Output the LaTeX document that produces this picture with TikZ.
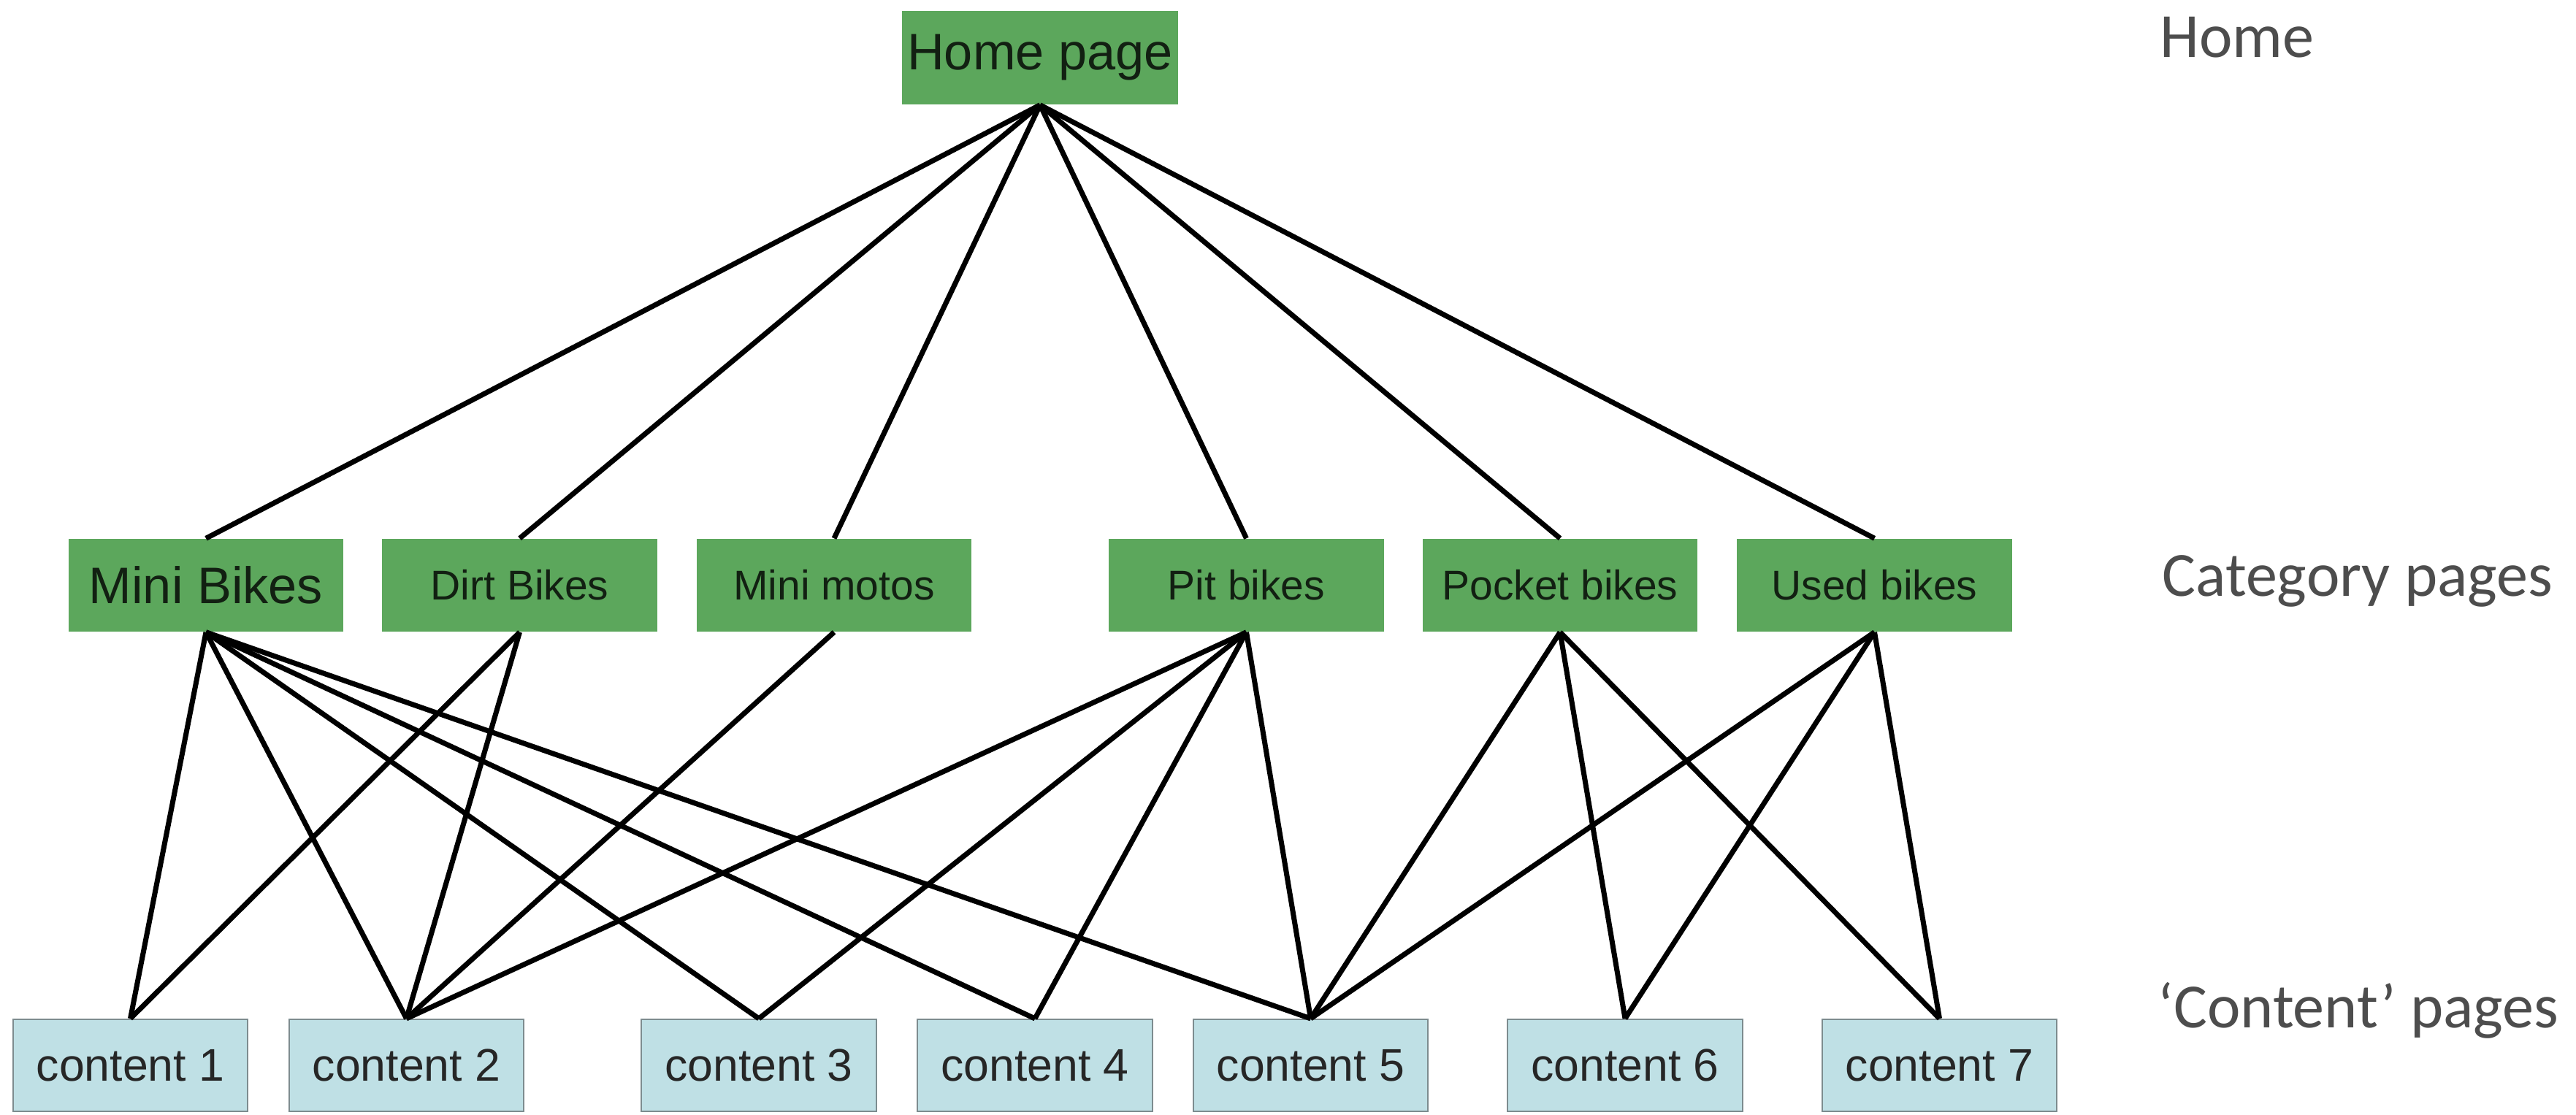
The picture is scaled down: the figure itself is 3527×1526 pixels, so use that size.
\documentclass[tikz,border=0pt]{standalone}
\usepackage{fontspec}
\setmainfont{Liberation Sans}
\newfontfamily\labelfont{Carlito}
\definecolor{boxgreen}{HTML}{5CA75C}
\definecolor{contentfill}{HTML}{BFE0E5}
\definecolor{contentedge}{HTML}{7D8C8F}
\definecolor{labelgray}{HTML}{4D4D4D}
\definecolor{darktext}{HTML}{122012}
\begin{document}
\begin{tikzpicture}[x=0.01cm,y=-0.01cm,
  catbox/.style={rectangle,fill=boxgreen,draw=none,minimum width=3.76cm,minimum height=1.27cm,inner sep=0pt,text=darktext,font=\fontsize{16.2}{18}\selectfont},
  homebox/.style={catbox,minimum width=3.78cm,minimum height=1.28cm,font=\fontsize{20}{22}\selectfont},
  contbox/.style={rectangle,fill=contentfill,draw=contentedge,line width=0.6pt,minimum width=3.21cm,minimum height=1.26cm,inner sep=0pt,text=black!85,font=\fontsize{17.8}{20}\selectfont},
  link/.style={line width=2pt,black},
  levellabel/.style={anchor=base west,inner sep=0pt,text=labelgray,font=\labelfont\fontsize{24.5}{28}\selectfont}]
\useasboundingbox (0,0) rectangle (3527,1526);
% nodes
\node[homebox] (home) at (1424,79) {Home page};
\node[catbox,font=\fontsize{20}{22}\selectfont] (mini) at (282,801.5) {Mini Bikes};
\node[catbox] (dirt) at (711.5,801.5) {Dirt Bikes};
\node[catbox] (motos) at (1142,801.5) {Mini motos};
\node[catbox] (pit) at (1706.5,801.5) {Pit bikes};
\node[catbox] (pocket) at (2136,801.5) {Pocket bikes};
\node[catbox] (used) at (2566.5,801.5) {Used bikes};
\node[contbox] (c1) at (178.5,1459) {content 1};
\node[contbox] (c2) at (556.5,1459) {content 2};
\node[contbox] (c3) at (1039,1459) {content 3};
\node[contbox] (c4) at (1417,1459) {content 4};
\node[contbox] (c5) at (1794.5,1459) {content 5};
\node[contbox] (c6) at (2225,1459) {content 6};
\node[contbox] (c7) at (2655.5,1459) {content 7};
% level labels
\node[levellabel] (lhome) at (2957,78) {Home};
\node[levellabel] (lcat) at (2960,816) {Category pages};
\node[levellabel] (lcont) at (2954,1407) {‘Content’ pages};
% home to categories
\foreach \c in {mini,dirt,motos,pit,pocket,used}
  \draw[link] (home.south) -- (\c.north);
% categories to content
\foreach \t in {c1,c2,c3,c4,c5}
  \draw[link] (mini.south) -- (\t.north);
\foreach \t in {c1,c2}
  \draw[link] (dirt.south) -- (\t.north);
\draw[link] (motos.south) -- (c2.north);
\foreach \t in {c2,c3,c4,c5}
  \draw[link] (pit.south) -- (\t.north);
\foreach \t in {c5,c6,c7}
  \draw[link] (pocket.south) -- (\t.north);
\foreach \t in {c5,c6,c7}
  \draw[link] (used.south) -- (\t.north);
\end{tikzpicture}
\end{document}
